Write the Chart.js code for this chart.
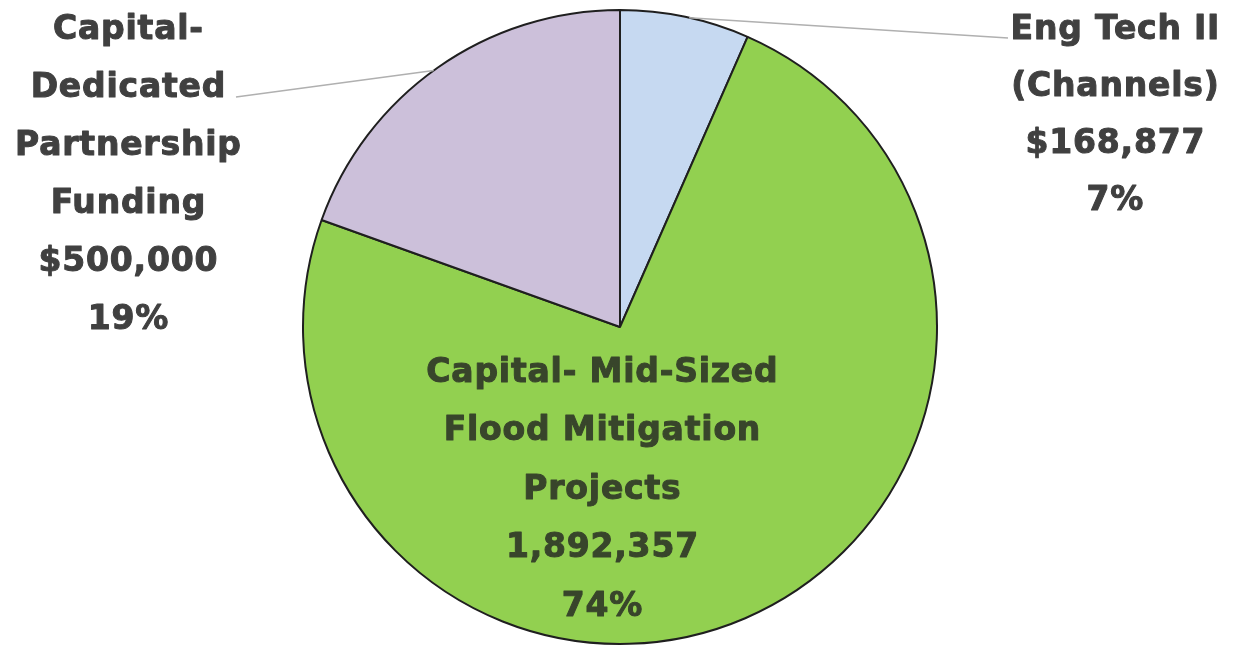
<!DOCTYPE html>
<html>
<head>
<meta charset="utf-8">
<script src="https://cdn.jsdelivr.net/npm/chart.js@4/dist/chart.umd.min.js"></script>
<style>
  html, body { margin: 0; padding: 0; background: #ffffff; }
  #wrap { width: 1236px; height: 646px; position: relative; }
</style>
</head>
<body>
<div id="wrap"><canvas id="c" width="1236" height="646"></canvas></div>
<script>
const categories = [
  ["Eng Tech II", "(Channels)"],
  ["Capital- Mid-Sized", "Flood Mitigation", "Projects"],
  ["Capital-", "Dedicated", "Partnership", "Funding"]
];
const values = [168877, 1892357, 500000];
const valueLabels = ["$168,877", "1,892,357", "$500,000"];
const percentLabels = ["7%", "74%", "19%"];
const colors = ["#c6d9f1", "#92d050", "#ccc0da"];

const FONT = "bold 33px 'DejaVu Sans', sans-serif";

const labelPlugin = {
  id: 'pieLabels',
  afterDatasetsDraw(chart) {
    const ctx = chart.ctx;
    const arcs = chart.getDatasetMeta(0).data;
    const cx = arcs[0].x, cy = arcs[0].y, r = arcs[0].outerRadius;
    const layouts = [
      { x: 1115, y: 30, lh: 57, color: '#404040' },
      { x: 602, y: 373, lh: 58.5, color: '#38452b' },
      { x: 128, y: 30, lh: 58, color: '#404040' }
    ];
    ctx.save();
    ctx.strokeStyle = '#b0b0b0';
    ctx.lineWidth = 1.5;
    function edgePoint(angleDeg) {
      const a = (angleDeg - 90) * Math.PI / 180;
      return [cx + r * Math.cos(a), cy + r * Math.sin(a)];
    }
    let p = edgePoint(12.6);
    ctx.beginPath(); ctx.moveTo(1008, 38); ctx.lineTo(p[0], p[1]); ctx.stroke();
    p = edgePoint(324);
    ctx.beginPath(); ctx.moveTo(236, 97); ctx.lineTo(p[0], p[1]); ctx.stroke();
    ctx.restore();

    ctx.save();
    ctx.font = FONT;
    ctx.textAlign = 'center';
    ctx.textBaseline = 'middle';
    if ('letterSpacing' in ctx) ctx.letterSpacing = '0.8px';
    ctx.lineWidth = 1.0;
    ctx.lineJoin = 'round';
    layouts.forEach((L, i) => {
      const lines = categories[i].concat([valueLabels[i], percentLabels[i]]);
      ctx.fillStyle = L.color;
      ctx.strokeStyle = L.color;
      lines.forEach((t, k) => {
        ctx.fillText(t, L.x + 0.4, L.y + k * L.lh);
        ctx.strokeText(t, L.x + 0.4, L.y + k * L.lh);
      });
    });
    ctx.restore();
  }
};

new Chart(document.getElementById('c'), {
  type: 'pie',
  data: {
    labels: categories.map(c => c.join(' ')),
    datasets: [{
      data: values,
      backgroundColor: colors,
      borderColor: '#1f1f1f',
      borderWidth: 2,
      borderAlign: 'center'
    }]
  },
  options: {
    responsive: false,
    animation: false,
    layout: { padding: { top: 9, bottom: 1, left: 4, right: 0 } },
    plugins: {
      legend: { display: false },
      tooltip: { enabled: false },
      title: { display: false }
    }
  },
  plugins: [labelPlugin]
});
</script>
</body>
</html>
